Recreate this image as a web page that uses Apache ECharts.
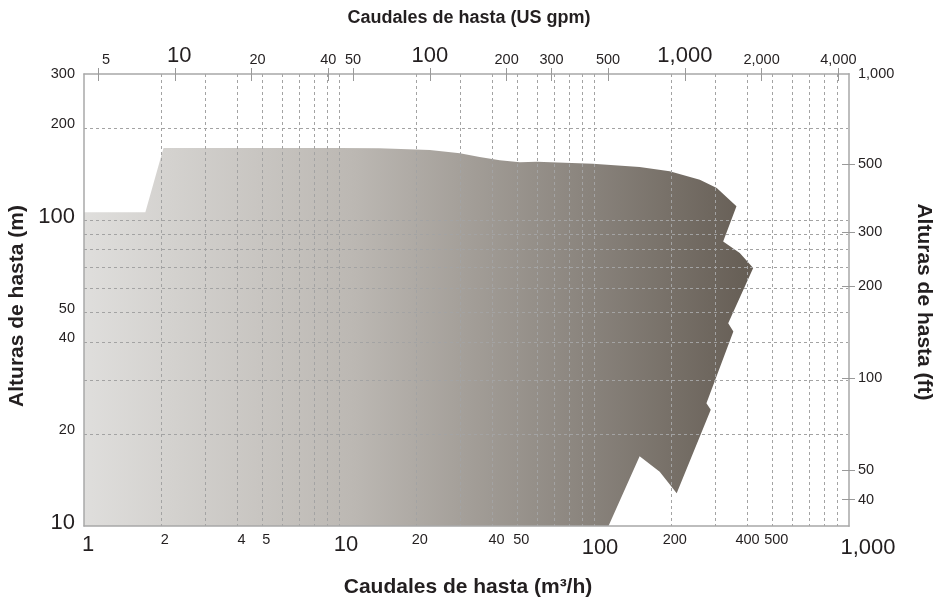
<!DOCTYPE html>
<html>
<head>
<meta charset="utf-8">
<script src="https://cdn.jsdelivr.net/npm/echarts@6/dist/echarts.min.js"></script>
<style>
html,body{margin:0;padding:0;background:#fff;}
#c{width:937px;height:609px;}
</style>
</head>
<body>
<div id="c"></div>
<script>
// ---- data: pump coverage envelope (flow m3/h, head m) ----
const flowM3h = [1, 1, 1.74, 2.05, 10, 14.4, 22.7, 29.8, 35.6, 42.7, 51.2, 59.7, 98.9, 151, 198, 260, 303, 362, 321, 373, 421, 336, 352, 276, 287, 211, 181, 151, 114];
const headM   = [10, 106, 106, 172, 172, 171.6, 169.2, 165.2, 160.7, 156.9, 154.3, 155.1, 152.8, 149.1, 144.2, 135.5, 127.2, 110.8, 85.1, 78, 69.7, 46, 43.2, 25.2, 24, 12.8, 15.05, 16.9, 10];

// ---- axes ----
const flowMin = 1, flowMax = 1000;
const headMin = 10, headMax = 300;
const M3H_TO_GPM = 4.402868;
const M_TO_FT = 3.28084;

const bottomLabels = [1, 2, 4, 5, 10, 20, 40, 50, 100, 200, 400, 500, 1000];
const bottomGrid = [2, 3, 4, 5, 6, 7, 8, 9, 10, 20, 30, 40, 50, 60, 70, 80, 90, 100, 200, 300, 400, 500, 600, 700, 800, 900];
const leftLabels = [10, 20, 40, 50, 100, 200, 300];
const leftGrid = [20, 30, 40, 50, 60, 70, 80, 90, 100, 200];
const topLabels = [5, 10, 20, 40, 50, 100, 200, 300, 500, 1000, 2000, 4000];
const rightLabels = [40, 50, 100, 200, 300, 500, 1000];
const rightTicks = [40, 50, 100, 200, 300, 500];

const L = Math.log10;
const gpmMin = L(flowMin * M3H_TO_GPM), gpmMax = L(flowMax * M3H_TO_GPM);
const ftMin = L(headMin * M_TO_FT), ftMax = L(headMax * M_TO_FT);

function fmt(v) { return String(v).replace(/\B(?=(\d{3})+(?!\d))/g, ','); }
function nearest(arr, lv, clampMax) {
  let best = arr[0], d = Infinity;
  arr.forEach(a => { let la = L(a); if (clampMax !== undefined) la = Math.min(la, clampMax); const dd = Math.abs(la - lv); if (dd < d) { d = dd; best = a; } });
  return best;
}
const FONT = '"Liberation Sans", Arial, sans-serif';
const TXT = '#231f20';
const AXC = '#a8a8a8';
const GRIDC = '#a3a3a3';
const SF = 14.5, BF = 22;

const chart = echarts.init(document.getElementById('c'), null, {renderer: 'canvas'});

const splitDashed = {show: true, lineStyle: {color: GRIDC, width: 1, type: [3, 3]}};

const option = {
  backgroundColor: '#fff',
  animation: false,
  grid: {left: 84, right: 88, top: 74, bottom: 83, containLabel: false},
  xAxis: [
    { // bottom: m3/h
      type: 'value', position: 'bottom', min: L(flowMin), max: L(flowMax), z: 5,
      axisLine: {show: true, lineStyle: {color: AXC, width: 1.5}},
      axisTick: {show: false, customValues: bottomGrid.map(L)},
      splitLine: splitDashed,
      axisLabel: {
        show: true, margin: 5, showMinLabel: true, showMaxLabel: true,
        customValues: bottomLabels.map(L),
        formatter: v => { const n = nearest(bottomLabels, v); const big = (n === 1 || n === 10 || n === 100 || n === 1000); let st = big ? 'b' + n : 's'; if (n === 400) st = 's0'; return '{' + st + '|' + fmt(n) + '}'; },
        rich: {
          s: {fontSize: SF, lineHeight: 17, fontFamily: FONT, color: TXT, padding: [0, 0, 0, 8]},
          s0: {fontSize: SF, lineHeight: 17, fontFamily: FONT, color: TXT, padding: [0, 0, 0, 0]},
          b1: {fontSize: BF, lineHeight: 25, fontFamily: FONT, color: TXT, padding: [3, 0, 0, 8]},
          b10: {fontSize: BF, lineHeight: 25, fontFamily: FONT, color: TXT, padding: [3, 0, 0, 14]},
          b100: {fontSize: BF, lineHeight: 25, fontFamily: FONT, color: TXT, padding: [9, 0, 0, 12]},
          b1000: {fontSize: BF, lineHeight: 25, fontFamily: FONT, color: TXT, padding: [9, 0, 0, 38]}
        }
      }
    },
    { // top: US gpm, labels + outer ticks
      type: 'value', position: 'top', min: gpmMin, max: gpmMax, z: 5,
      axisLine: {show: true, lineStyle: {color: AXC, width: 1.5}},
      axisTick: {show: true, inside: false, length: 6, customValues: topLabels.map(L), lineStyle: {color: '#999', width: 1}},
      splitLine: {show: false},
      axisLabel: {
        show: true, margin: 6, showMinLabel: true, showMaxLabel: true,
        customValues: topLabels.map(L),
        formatter: v => { const n = nearest(topLabels, v); const big = (n === 10 || n === 100 || n === 1000); let st = big ? 'b' : 's'; if (n === 5) st = 'sr5'; if (n === 20) st = 'sr'; if (n === 10) st = 'br'; return '{' + st + '|' + fmt(n) + '}'; },
        rich: {
          s: {fontSize: SF, lineHeight: 17, fontFamily: FONT, color: TXT},
          sr: {fontSize: SF, lineHeight: 17, fontFamily: FONT, color: TXT, padding: [0, 0, 0, 12]},
          sr5: {fontSize: SF, lineHeight: 17, fontFamily: FONT, color: TXT, padding: [0, 0, 0, 16]},
          b: {fontSize: BF, lineHeight: 25, fontFamily: FONT, color: TXT},
          br: {fontSize: BF, lineHeight: 25, fontFamily: FONT, color: TXT, padding: [0, 0, 0, 9]}
        }
      }
    },
    { // top: inner ticks
      type: 'value', position: 'top', min: gpmMin, max: gpmMax, z: 5,
      axisLine: {show: false},
      axisTick: {show: true, inside: true, length: 7, customValues: topLabels.map(L), lineStyle: {color: '#999', width: 1}},
      splitLine: {show: false},
      axisLabel: {show: false}
    }
  ],
  yAxis: [
    { // left: m
      type: 'value', position: 'left', min: L(headMin), max: L(headMax), z: 5,
      axisLine: {show: true, lineStyle: {color: AXC, width: 1.5}},
      axisTick: {show: false, customValues: leftGrid.map(L)},
      splitLine: splitDashed,
      axisLabel: {
        show: true, margin: 9, showMinLabel: true, showMaxLabel: true,
        customValues: leftLabels.map(L),
        formatter: v => { const n = nearest(leftLabels, v); const big = (n === 10 || n === 100); let st = big ? 'b' : 's'; if (n === 300) st = 't'; return '{' + st + '|' + fmt(n) + '}'; },
        rich: {
          s: {fontSize: SF, lineHeight: 17, fontFamily: FONT, color: TXT, padding: [0, 0, 7, 0]},
          t: {fontSize: SF, lineHeight: 17, fontFamily: FONT, color: TXT, padding: [0, 0, 0, 0]},
          b: {fontSize: BF, lineHeight: 25, fontFamily: FONT, color: TXT, padding: [0, 0, 7, 0]}
        }
      }
    },
    { // right: ft, labels + outer ticks
      type: 'value', position: 'right', min: ftMin, max: ftMax, z: 5,
      axisLine: {show: true, lineStyle: {color: '#bdbdbd', width: 2}},
      axisTick: {show: true, inside: false, length: 6, customValues: rightTicks.map(L), lineStyle: {color: '#999', width: 1}},
      splitLine: {show: false},
      axisLabel: {
        show: true, margin: 9, showMinLabel: true, showMaxLabel: true,
        customValues: rightLabels.map(v => Math.min(L(v), ftMax)),
        formatter: v => '{s|' + fmt(nearest(rightLabels, v, ftMax)) + '}',
        rich: {s: {fontSize: SF, lineHeight: 17, fontFamily: FONT, color: TXT}}
      }
    },
    { // right: inner ticks
      type: 'value', position: 'right', min: ftMin, max: ftMax, z: 5,
      axisLine: {show: false},
      axisTick: {show: true, inside: true, length: 7, customValues: rightTicks.map(L), lineStyle: {color: '#999', width: 1}},
      splitLine: {show: false},
      axisLabel: {show: false}
    }
  ],
  series: [{
    type: 'custom',
    coordinateSystem: 'cartesian2d',
    xAxisIndex: 0, yAxisIndex: 0,
    z: -1,
    silent: true,
    data: flowM3h.map((q, i) => [L(q), L(headM[i])]),
    encode: {x: 0, y: 1},
    renderItem: function (params, api) {
      if (params.dataIndex !== 0) return null;
      const pts = flowM3h.map((q, i) => api.coord([L(q), L(headM[i])]));
      return {
        type: 'polygon',
        shape: {points: pts},
        style: {
          fill: new echarts.graphic.LinearGradient(0, 0, 1, 0, [
            {offset: 0, color: '#dfdedc'},
            {offset: 0.4, color: '#bcb8b3'},
            {offset: 0.75, color: '#8a847d'},
            {offset: 1, color: '#655d54'}
          ]),
          stroke: null
        }
      };
    }
  }],
  graphic: [
    {type: 'text', x: 469, y: 18, style: {text: 'Caudales de hasta (US gpm)', font: 'bold 18px ' + FONT, fill: TXT, align: 'center', verticalAlign: 'middle'}},
    {type: 'text', x: 468, y: 587, style: {text: 'Caudales de hasta (m³/h)', font: 'bold 21px ' + FONT, fill: TXT, align: 'center', verticalAlign: 'middle'}},
    {type: 'text', x: 17, y: 306, rotation: Math.PI / 2, style: {text: 'Alturas de hasta (m)', font: 'bold 21px ' + FONT, fill: TXT, align: 'center', verticalAlign: 'middle'}},
    {type: 'text', x: 924, y: 302, rotation: -Math.PI / 2, style: {text: 'Alturas de hasta (ft)', font: 'bold 21px ' + FONT, fill: TXT, align: 'center', verticalAlign: 'middle'}}
  ]
};
chart.setOption(option);
</script>
</body>
</html>
